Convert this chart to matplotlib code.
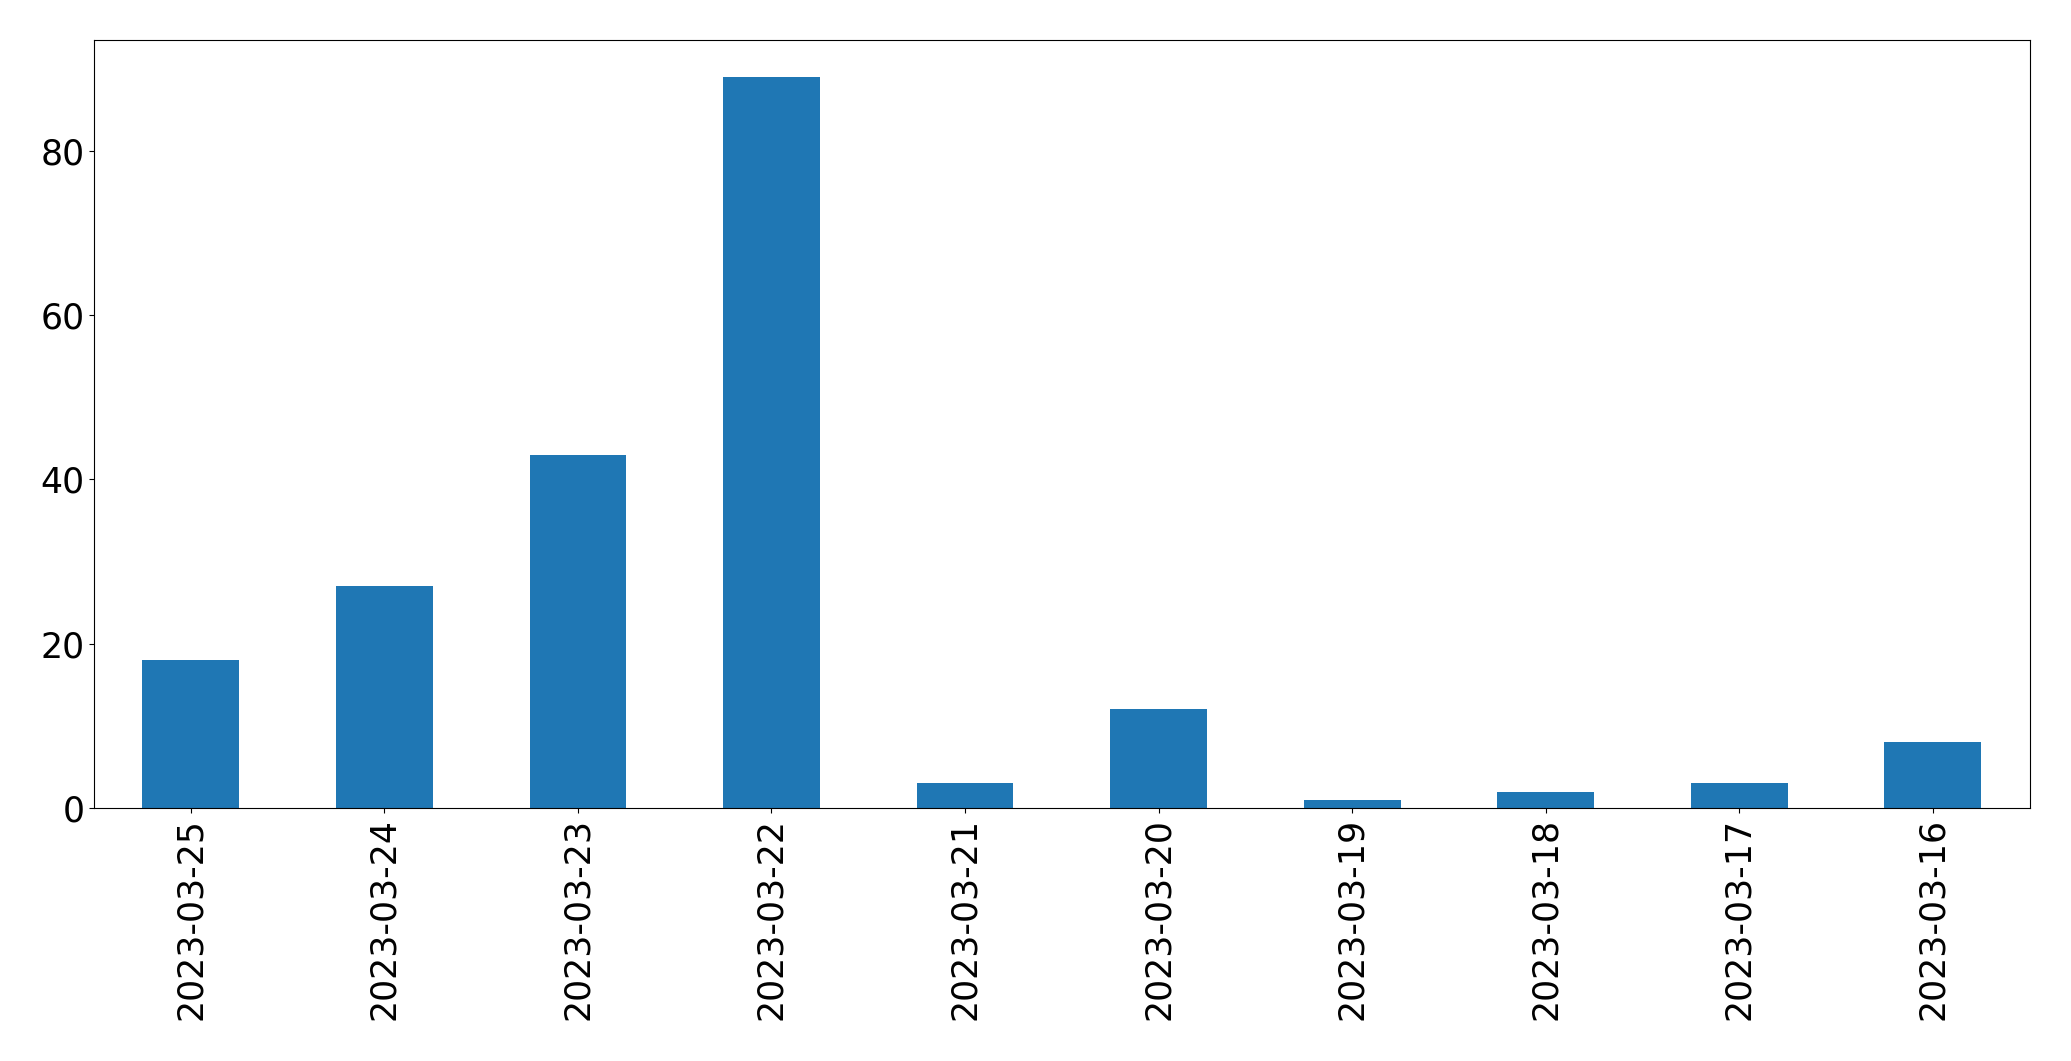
import matplotlib
matplotlib.use('Agg')
import matplotlib.pyplot as plt
import pandas as pd

dates = ['2023-03-25', '2023-03-24', '2023-03-23', '2023-03-22', '2023-03-21',
         '2023-03-20', '2023-03-19', '2023-03-18', '2023-03-17', '2023-03-16']
counts = [18, 27, 43, 89, 3, 12, 1, 2, 3, 8]

s = pd.Series(counts, index=dates)

fig = plt.figure(figsize=(20.71, 10.61), dpi=100)
ax = fig.add_subplot(111)
s.plot(kind='bar', ax=ax, fontsize=25, color='#1f77b4')
fig.subplots_adjust(left=0.0454, right=0.980, top=0.962, bottom=0.2385)

plt.savefig('out.png', dpi=100)
